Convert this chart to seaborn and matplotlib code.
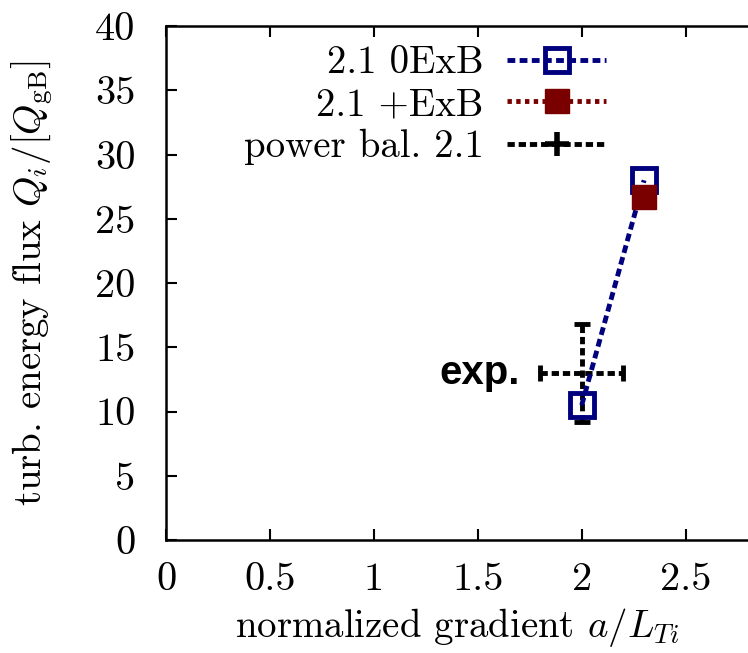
import numpy as np
import pandas as pd
import seaborn as sns
import matplotlib.pyplot as plt
from matplotlib.lines import Line2D

# data
grad_0exb = [2.0, 2.3]
flux_0exb = [10.5, 28.0]
grad_exb = [2.3]
flux_exb = [26.7]
grad_exp = [2.0]
flux_exp = [13.0]
grad_exp_err = [0.2]
flux_exp_err = [3.8]

xticks = [0, 0.5, 1, 1.5, 2, 2.5]
yticks = [0, 5, 10, 15, 20, 25, 30, 35, 40]

sns.set_style("ticks", {"axes.edgecolor": "black", "text.color": "black",
                        "xtick.color": "black", "ytick.color": "black",
                        "axes.labelcolor": "black"})
plt.rcParams["font.family"] = ["serif"]
plt.rcParams["font.serif"] = ["cmr10", "DejaVu Serif"]
plt.rcParams["mathtext.fontset"] = "cm"
plt.rcParams["axes.formatter.use_mathtext"] = True

blue = "#00007f"
red = "#7a0000"
fs = 28
tfs = 29

fig = plt.figure(figsize=(7.48, 6.53), dpi=100)
ax = fig.add_axes([0.222, 0.173, 0.778, 0.787])

# experimental power balance point
eb = ax.errorbar(grad_exp, flux_exp, xerr=grad_exp_err, yerr=flux_exp_err,
                 fmt="none", ecolor="black", elinewidth=3.5, capsize=6,
                 capthick=3.5, zorder=2)
for lc in eb[2]:
    lc.set_linestyle((0, (1.5, 0.8)))

df0 = pd.DataFrame({"grad": grad_0exb, "flux": flux_0exb})
df1 = pd.DataFrame({"grad": grad_exb, "flux": flux_exb})

sns.lineplot(data=df0, x="grad", y="flux", ax=ax, color=blue, lw=3.5,
             linestyle=(0, (1.6, 0.9)), marker="s", markersize=17,
             markerfacecolor="none", markeredgecolor=blue, markeredgewidth=3.5,
             errorbar=None, zorder=3)
sns.lineplot(data=df1, x="grad", y="flux", ax=ax, color=red, lw=3.5,
             linestyle=(0, (0.9, 0.9)), marker="s", markersize=17,
             markerfacecolor=red, markeredgecolor=red, markeredgewidth=1,
             errorbar=None, zorder=4)

ax.text(1.70, 13.0, "exp.", ha="right", va="center", fontsize=29,
        fontweight="bold", color="black", family=["Liberation Sans", "DejaVu Sans"])

ax.set_xlim(0, 2.8)
ax.set_ylim(0, 40)
ax.set_xticks(xticks)
ax.set_xticklabels(["0", "0.5", "1", "1.5", "2", "2.5"])
ax.set_yticks(yticks)
ax.set_yticklabels([str(v) for v in yticks])
ax.tick_params(direction="in", length=8, width=1.5, labelsize=tfs, top=True)
ax.tick_params(axis="x", pad=16)
ax.tick_params(axis="y", pad=22)
for s in ["left", "bottom", "top"]:
    ax.spines[s].set_linewidth(1.8)
ax.spines["right"].set_visible(False)

ax.set_xlabel(r"normalized gradient $a/L_{Ti}$", fontsize=fs)
ax.set_ylabel(r"turb. energy flux $Q_i/[Q_{\rm gB}]$", fontsize=fs)
ax.xaxis.set_label_coords(0.5, -0.128)
ax.yaxis.set_label_coords(-0.19, 0.5)

handles = [
    Line2D([], [], color=blue, lw=3.5, linestyle=(0, (1.6, 0.9)), marker="s",
           markersize=17, markerfacecolor="none", markeredgecolor=blue,
           markeredgewidth=3.5),
    Line2D([], [], color=red, lw=3.5, linestyle=(0, (0.9, 0.9)), marker="s",
           markersize=17, markerfacecolor=red, markeredgecolor=red),
    Line2D([], [], color="black", lw=3.5, linestyle=(0, (1.5, 0.8)), marker="+",
           markersize=17, markeredgewidth=4),
]
labels = ["2.1 0ExB", "2.1 +ExB", "power bal. 2.1"]
ax.legend(handles, labels, loc="upper right", bbox_to_anchor=(0.79, 1.0),
          frameon=False, markerfirst=False, fontsize=fs, handlelength=2.55,
          handletextpad=0.6, labelspacing=0.15, borderpad=0, numpoints=1)

fig.savefig("out.png", dpi=100)
